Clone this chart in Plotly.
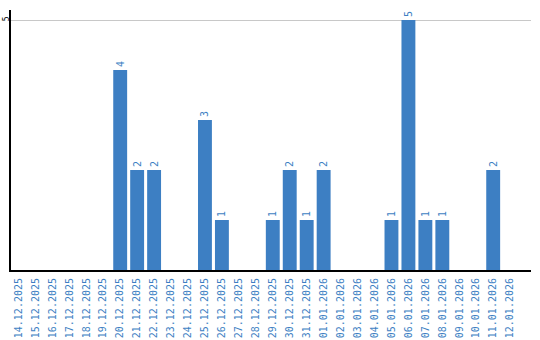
import plotly.graph_objects as go

dates = ["14.12.2025", "15.12.2025", "16.12.2025", "17.12.2025", "18.12.2025", "19.12.2025",
         "20.12.2025", "21.12.2025", "22.12.2025", "23.12.2025", "24.12.2025", "25.12.2025",
         "26.12.2025", "27.12.2025", "28.12.2025", "29.12.2025", "30.12.2025", "31.12.2025",
         "01.01.2026", "02.01.2026", "03.01.2026", "04.01.2026", "05.01.2026", "06.01.2026",
         "07.01.2026", "08.01.2026", "09.01.2026", "10.01.2026", "11.01.2026", "12.01.2026"]
values = [0, 0, 0, 0, 0, 0, 4, 2, 2, 0, 0, 3, 1, 0, 0, 1, 2, 1, 2, 0, 0, 0, 1, 5, 1, 1, 0, 0, 2, 0]

blue = "#3d7fc3"
labels = [str(v) if v > 0 else "" for v in values]

fig = go.Figure(go.Bar(
    x=dates, y=values, marker_color=blue, marker_line_width=0,
    text=labels, textposition="outside", textangle=-90,
    textfont=dict(family="DejaVu Sans Mono", size=10, color=blue),
    cliponaxis=False, width=0.82,
))

fig.update_layout(
    width=540, height=340,
    margin=dict(l=11, r=9, t=10, b=70, autoexpand=False),
    paper_bgcolor="white", plot_bgcolor="white",
    showlegend=False,
)
fig.update_xaxes(
    type="category", range=[-0.44, 30.23], automargin=False,
    tickangle=-90, tickfont=dict(family="DejaVu Sans Mono", size=10, color=blue),
    showline=True, linecolor="black", linewidth=2,
    showgrid=False, ticks="", ticklen=0, ticklabelstandoff=2,
)
fig.update_yaxes(
    range=[0, 5.2], tickvals=[5], ticktext=["5"], tickangle=-90, automargin=False,
    tickfont=dict(family="DejaVu Sans Mono", size=8, color="black"),
    showline=True, linecolor="black", linewidth=2,
    showgrid=True, gridcolor="#c8c8c8", gridwidth=1,
    zeroline=False, ticks="", ticklabelstandoff=-3,
)

fig.write_html("out.html")
